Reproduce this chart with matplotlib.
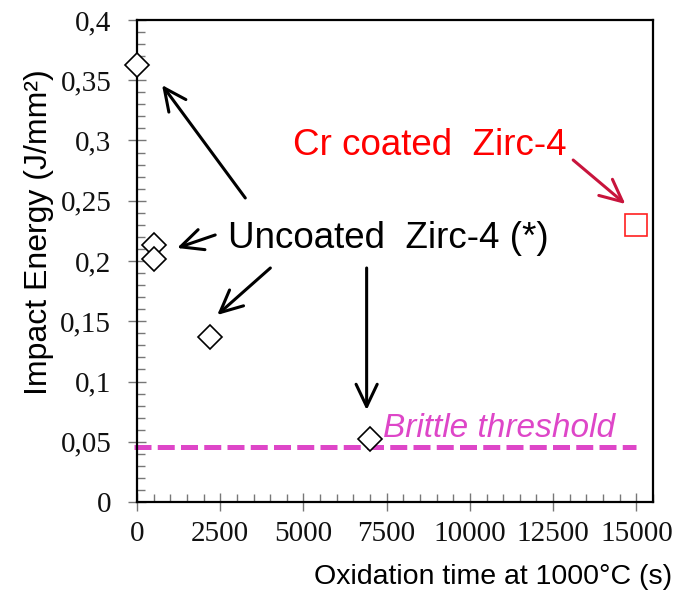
import matplotlib
matplotlib.use("Agg")
import matplotlib.pyplot as plt
from matplotlib.ticker import MultipleLocator, FuncFormatter

# data
uncoated_time = [0, 500, 500, 2200, 7000]
uncoated_energy = [0.363, 0.213, 0.202, 0.137, 0.052]
coated_time = [15000]
coated_energy = [0.23]
threshold_time = [-100, 15000]
threshold_energy = [0.046, 0.046]

magenta = '#DE46C8'

fig = plt.figure(figsize=(6.79, 5.90), dpi=100)
ax = fig.add_axes([137/679, 88/590, 516/679, 482/590])

ax.plot(threshold_time, threshold_energy, color=magenta, lw=3.6,
        dashes=(3.4, 1.25), clip_on=False, zorder=2)
ax.plot(uncoated_time, uncoated_energy, ls='none', marker='D', ms=12.5,
        mfc='white', mec='black', mew=1.2, clip_on=False, zorder=4)
ax.plot(coated_time, coated_energy, ls='none', marker='s', ms=16,
        mfc='white', mec='#FF2020', mew=1.2, clip_on=False, zorder=4)

ax.set_xlim(0, 15500)
ax.set_ylim(0, 0.4)
ax.xaxis.set_major_locator(MultipleLocator(2500))
ax.xaxis.set_minor_locator(MultipleLocator(500))
ax.yaxis.set_major_locator(MultipleLocator(0.05))
ax.yaxis.set_minor_locator(MultipleLocator(0.01))
ax.yaxis.set_major_formatter(FuncFormatter(lambda v, p: f"{v:.2f}".rstrip('0').rstrip(',.').replace('.', ',') if v else '0'))

for s in ax.spines.values():
    s.set_linewidth(1.6)
ax.tick_params(which='major', direction='inout', length=13, width=1.0,
               colors='#777777', labelcolor='#111111', labelsize=21)
ax.tick_params(axis='x', which='major', pad=7)
ax.tick_params(axis='y', which='major', pad=12)
ax.tick_params(which='minor', direction='in', length=6, width=1.0, colors='#777777')
for lab in ax.get_xticklabels() + ax.get_yticklabels():
    lab.set_fontfamily('Liberation Serif')

ax.set_xlabel('Oxidation time at 1000°C (s)', fontsize=20.5,
              fontfamily='Liberation Sans', ha='right')
ax.xaxis.set_label_coords(1.037, -0.128)
ax.set_ylabel('Impact Energy (J/mm²)', fontsize=23, fontfamily='Liberation Sans')
ax.yaxis.set_label_coords(-0.19, 0.56)
ax.yaxis.label.set_va('center')

ax.text(2741, 0.2108, 'Uncoated  Zirc-4 (*)', fontsize=26.5,
        fontfamily='Liberation Sans', va='baseline')
ax.text(4700, 0.288, 'Cr coated  Zirc-4', fontsize=26.5, color='#FF0000',
        fontfamily='Liberation Sans', va='baseline')
ax.text(7380, 0.0539, 'Brittle threshold', fontsize=24, color=magenta,
        fontfamily='Liberation Sans', style='italic', va='baseline')

arrow = dict(arrowstyle='->,head_length=0.8,head_width=0.38', lw=2.2,
             color='black', shrinkA=0, shrinkB=0, mutation_scale=20)
for tail, head in [((3253, 0.2523), (753, 0.346)),
                   ((2349, 0.2216), (1205, 0.2108)),
                   ((4006, 0.1942), (2410, 0.1552)),
                   ((6898, 0.1942), (6898, 0.0763))]:
    ax.annotate('', xy=head, xytext=tail, arrowprops=arrow)
red_arrow = dict(arrow, color='#C8143C')
ax.annotate('', xy=(14669, 0.2473), xytext=(13102, 0.2838), arrowprops=red_arrow)

plt.savefig('out.png', dpi=100)
